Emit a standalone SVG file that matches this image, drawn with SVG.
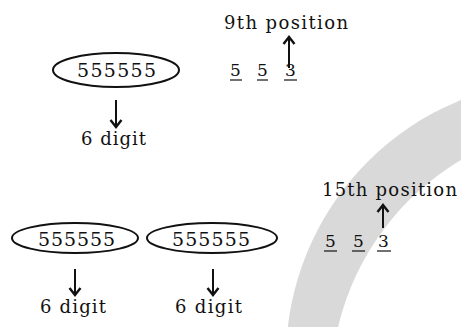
<svg xmlns="http://www.w3.org/2000/svg" width="461" height="327" viewBox="0 0 461 327">
  <defs>
    <style>
      .t { font-family: "DejaVu Serif", "Liberation Serif", serif; fill: #111; }
      .lbl { font-size: 18px; }
      .num { font-size: 19px; }
      .dig { font-size: 17px; }
      .oval { fill: none; stroke: #111; stroke-width: 2; }
      .arr { stroke: #111; stroke-width: 2; fill: none; }
      .ul { stroke: #111; stroke-width: 1.2; }
    </style>
    <marker id="head" markerUnits="userSpaceOnUse" viewBox="-10 -8 12 16" markerWidth="12" markerHeight="16" refX="0" refY="0" orient="auto">
      <path d="M-7,-5.5 L0,0 L-7,5.5" fill="none" stroke="#111" stroke-width="2.4"/>
    </marker>
  </defs>
  <rect width="461" height="327" fill="#ffffff"/>
  <path id="band" fill="#d9d9d9" fill-rule="evenodd" d="M286,359 A279,279 0 1,0 844,359 A279,279 0 1,0 286,359 Z M331,388 A265,265 0 1,0 861,388 A265,265 0 1,0 331,388 Z"/>

  <g id="connectors">
    <line class="arr" x1="116" y1="100" x2="116" y2="127" marker-end="url(#head)"/>
    <line class="arr" x1="289" y1="68" x2="289" y2="37" marker-end="url(#head)"/>
    <line class="arr" x1="75" y1="269" x2="75" y2="295" marker-end="url(#head)"/>
    <line class="arr" x1="213" y1="269" x2="213" y2="295" marker-end="url(#head)"/>
    <line class="arr" x1="383" y1="228" x2="383" y2="205" marker-end="url(#head)"/>
  </g>

  <g id="oval-top">
    <ellipse class="oval" cx="116" cy="70" rx="63" ry="17"/>
    <text class="t num" x="77" y="77" textLength="79" lengthAdjust="spacing">555555</text>
  </g>
  <g id="digit-top">
    <text class="t lbl" x="81" y="145" textLength="65" lengthAdjust="spacing">6 digit</text>
  </g>
  <g id="pos9">
    <text class="t lbl" x="224" y="29" textLength="124" lengthAdjust="spacing">9th position</text>
  </g>
  <g id="seq-top">
    <text class="t dig" x="230" y="76">5</text>
    <text class="t dig" x="257" y="76">5</text>
    <text class="t dig" x="285" y="76">3</text>
    <line class="ul" x1="230" y1="80" x2="242" y2="80"/>
    <line class="ul" x1="257" y1="80" x2="268" y2="80"/>
    <line class="ul" x1="284" y1="80" x2="297" y2="80"/>
  </g>

  <g id="oval-bl">
    <ellipse class="oval" cx="75" cy="238" rx="63" ry="15"/>
    <text class="t num" x="38" y="246" textLength="77" lengthAdjust="spacing">555555</text>
  </g>
  <g id="digit-bl">
    <text class="t lbl" x="40" y="313" textLength="66" lengthAdjust="spacing">6 digit</text>
  </g>
  <g id="oval-br">
    <ellipse class="oval" cx="212" cy="238" rx="65" ry="15"/>
    <text class="t num" x="172" y="246" textLength="78" lengthAdjust="spacing">555555</text>
  </g>
  <g id="digit-br">
    <text class="t lbl" x="175" y="313" textLength="67" lengthAdjust="spacing">6 digit</text>
  </g>
  <g id="pos15">
    <text class="t lbl" x="322" y="196" textLength="135" lengthAdjust="spacing">15th position</text>
  </g>
  <g id="seq-bottom">
    <text class="t dig" x="325" y="247">5</text>
    <text class="t dig" x="353" y="247">5</text>
    <text class="t dig" x="378" y="247">3</text>
    <line class="ul" x1="324" y1="251" x2="337" y2="251"/>
    <line class="ul" x1="352" y1="251" x2="365" y2="251"/>
    <line class="ul" x1="377" y1="251" x2="391" y2="251"/>
  </g>
</svg>
